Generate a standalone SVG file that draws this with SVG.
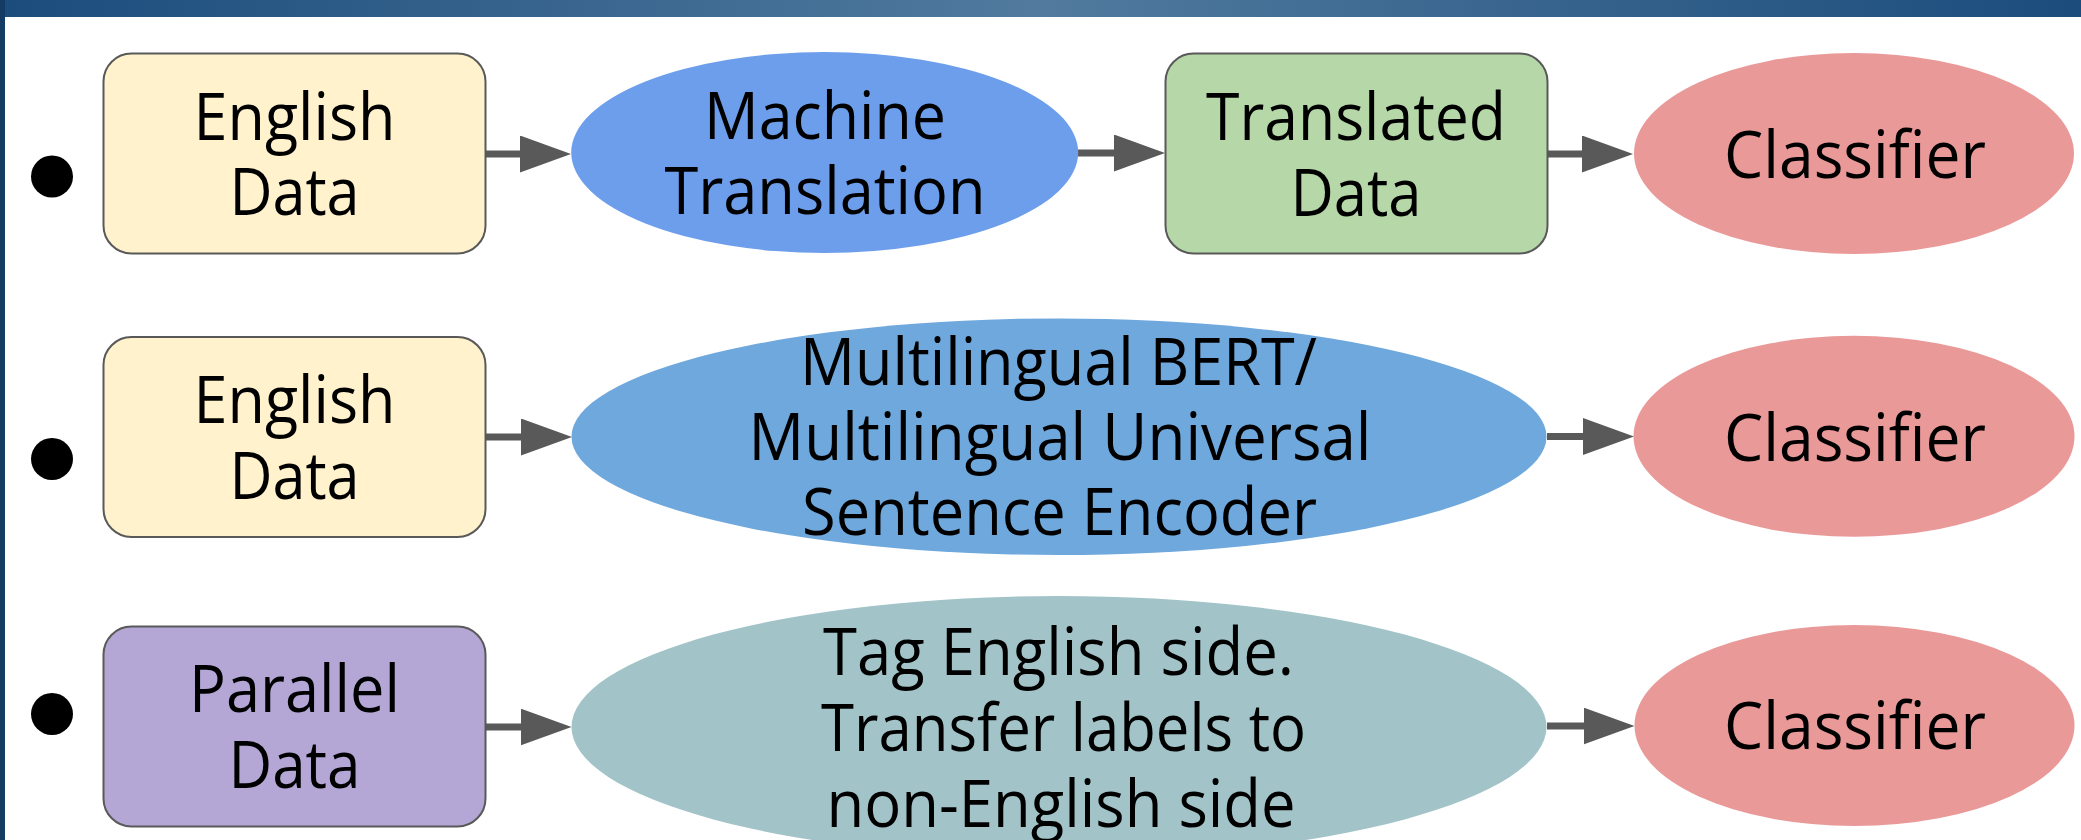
<svg xmlns="http://www.w3.org/2000/svg" width="2081" height="840" viewBox="0 0 2081 840">
  <style>
    .box { stroke: #595959; stroke-width: 2; }
    .lbl { font-family: "Open Sans", "Noto Sans", "Liberation Sans", sans-serif; font-size: 65px; fill: #000000; text-anchor: middle; }
    .link { fill: none; stroke: #595959; stroke-width: 7; }
    .dot { fill: #000000; }
  </style>
  <defs>
    <linearGradient id="bar" x1="0" y1="0" x2="1" y2="0">
      <stop offset="0" stop-color="#1b4c7c"/>
      <stop offset="0.5" stop-color="#517a9e"/>
      <stop offset="1" stop-color="#1b4c7c"/>
    </linearGradient>
    <marker id="head" viewBox="0 0 51 37" refX="2" refY="18.5" markerWidth="51" markerHeight="37" markerUnits="userSpaceOnUse" orient="auto">
      <path d="M0 0 L51 18.5 L0 37 Z" fill="#595959"/>
    </marker>
  </defs>

  <!-- page frame -->
  <rect x="0" y="0" width="2081" height="840" fill="#ffffff"/>
  <rect x="0" y="0" width="2081" height="17" fill="url(#bar)"/>
  <rect x="0" y="0" width="5" height="840" fill="#143b63"/>

  <!-- bullets -->
  <circle class="dot" cx="52" cy="176.5" r="21"/>
  <circle class="dot" cx="52" cy="459" r="21"/>
  <circle class="dot" cx="52" cy="714" r="21"/>

  <!-- connectors -->
  <g id="connectors">
    <path class="link" d="M486 154 L522 154" marker-end="url(#head)"/>
    <path class="link" d="M1078 153 L1116 153" marker-end="url(#head)"/>
    <path class="link" d="M1547 154 L1584 154" marker-end="url(#head)"/>
    <path class="link" d="M486 437 L523 437" marker-end="url(#head)"/>
    <path class="link" d="M1547 436.5 L1585 436.5" marker-end="url(#head)"/>
    <path class="link" d="M486 727 L522.5 727" marker-end="url(#head)"/>
    <path class="link" d="M1547 726 L1585.5 726" marker-end="url(#head)"/>
  </g>

  <!-- row 1 -->
  <g id="english-data-1">
    <rect class="box" x="103.5" y="53.5" width="382" height="200" rx="28" fill="#fff2cc"/>
    <text class="lbl" x="294.5" y="139.5" textLength="202" lengthAdjust="spacingAndGlyphs">English</text>
    <text class="lbl" x="294.5" y="215" textLength="130" lengthAdjust="spacingAndGlyphs">Data</text>
  </g>
  <g id="machine-translation">
    <ellipse cx="824.7" cy="152.5" rx="253.5" ry="100.5" fill="#6d9eeb"/>
    <text class="lbl" x="825" y="138.5" textLength="242" lengthAdjust="spacingAndGlyphs">Machine</text>
    <text class="lbl" x="825" y="213.5" textLength="321" lengthAdjust="spacingAndGlyphs">Translation</text>
  </g>
  <g id="translated-data">
    <rect class="box" x="1165.5" y="53.5" width="382" height="200" rx="28" fill="#b6d7a8"/>
    <text class="lbl" x="1356" y="140" textLength="300" lengthAdjust="spacingAndGlyphs">Translated</text>
    <text class="lbl" x="1356" y="216" textLength="131" lengthAdjust="spacingAndGlyphs">Data</text>
  </g>
  <g id="classifier-1">
    <ellipse cx="1854" cy="153.5" rx="220" ry="100.5" fill="#ea9999"/>
    <text class="lbl" x="1855" y="178" textLength="262" lengthAdjust="spacingAndGlyphs">Classifier</text>
  </g>

  <!-- row 2 -->
  <g id="english-data-2">
    <rect class="box" x="103.5" y="337" width="382" height="200" rx="28" fill="#fff2cc"/>
    <text class="lbl" x="294.5" y="423" textLength="202" lengthAdjust="spacingAndGlyphs">English</text>
    <text class="lbl" x="294.5" y="498.5" textLength="130" lengthAdjust="spacingAndGlyphs">Data</text>
  </g>
  <g id="multilingual-encoder">
    <ellipse cx="1059" cy="436.7" rx="487.5" ry="118.3" fill="#6fa8dc"/>
    <text class="lbl" x="1058.5" y="385" textLength="517" lengthAdjust="spacingAndGlyphs">Multilingual BERT/</text>
    <text class="lbl" x="1060" y="460" textLength="623" lengthAdjust="spacingAndGlyphs">Multilingual Universal</text>
    <text class="lbl" x="1059.5" y="535" textLength="515" lengthAdjust="spacingAndGlyphs">Sentence Encoder</text>
  </g>
  <g id="classifier-2">
    <ellipse cx="1854" cy="436.3" rx="220.5" ry="100.5" fill="#ea9999"/>
    <text class="lbl" x="1855" y="460.7" textLength="262" lengthAdjust="spacingAndGlyphs">Classifier</text>
  </g>

  <!-- row 3 -->
  <g id="parallel-data">
    <rect class="box" x="103.5" y="626.5" width="382" height="200" rx="28" fill="#b4a7d6"/>
    <text class="lbl" x="294.5" y="711.7" textLength="211" lengthAdjust="spacingAndGlyphs">Parallel</text>
    <text class="lbl" x="294.5" y="788.3" textLength="132" lengthAdjust="spacingAndGlyphs">Data</text>
  </g>
  <g id="label-transfer">
    <ellipse cx="1059" cy="727" rx="487.5" ry="131" fill="#a2c4c9"/>
    <text class="lbl" x="1058.5" y="675" textLength="471" lengthAdjust="spacingAndGlyphs">Tag English side.</text>
    <text class="lbl" x="1063.5" y="750.7" textLength="485" lengthAdjust="spacingAndGlyphs">Transfer labels to</text>
    <text class="lbl" x="1061" y="826.7" textLength="469" lengthAdjust="spacingAndGlyphs">non-English side</text>
  </g>
  <g id="classifier-3">
    <ellipse cx="1854.5" cy="725.5" rx="220" ry="100.5" fill="#ea9999"/>
    <text class="lbl" x="1855" y="749.3" textLength="262" lengthAdjust="spacingAndGlyphs">Classifier</text>
  </g>
</svg>
